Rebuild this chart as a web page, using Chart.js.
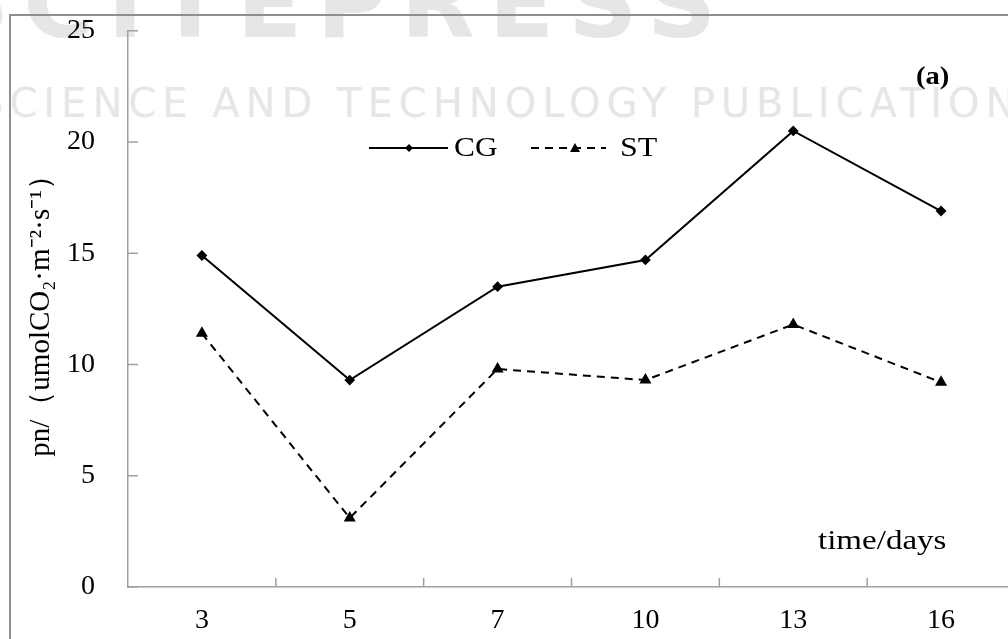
<!DOCTYPE html>
<html>
<head>
<meta charset="utf-8">
<script src="https://cdn.jsdelivr.net/npm/chart.js@4.4.1/dist/chart.umd.min.js"></script>
<style>
  html, body { margin: 0; padding: 0; background: #fff; overflow: hidden; }
  #wrap { position: relative; width: 1040px; height: 639px; overflow: hidden; }
  #frame { position: absolute; left: 9px; top: 14px; width: 2000px; height: 2000px;
           border-left: 2px solid #8f8f8f; border-top: 2px solid #8f8f8f; }
  .wm { position: absolute; color: #e6e6e6; font-family: "DejaVu Sans", sans-serif;
        font-weight: bold; white-space: nowrap; }
  #wm1 { left: -60px; top: -52px; font-size: 96px; letter-spacing: 14px; }
  #wm2 { left: -22px; top: 80px; font-size: 40px; letter-spacing: 6px; font-weight: normal; }
  canvas { position: absolute; left: 0; top: -11px; }
</style>
</head>
<body>
<div id="wrap">
  <div class="wm" id="wm1">SCITEPRESS</div>
  <div class="wm" id="wm2">SCIENCE AND TECHNOLOGY PUBLICATIONS</div>
  <div id="frame"></div>
  <canvas id="chart" width="1040" height="650"></canvas>
</div>
<script>
var days = ['3', '5', '7', '10', '13', '16'];
var cgValues = [14.9, 9.3, 13.5, 14.7, 20.5, 16.9];
var stValues = [11.4, 3.1, 9.8, 9.3, 11.8, 9.2];
var yTicks = [0, 5, 10, 15, 20, 25];

var serif = 'Liberation Serif';
var OFF = 11; // canvas sits 11px above the page top

function wideText(ctx, text, x, y, sx) {
    ctx.save();
    ctx.translate(x, y + OFF);
    ctx.scale(sx, 1);
    ctx.fillText(text, 0, 0);
    ctx.restore();
}

// little ticks pointing into the plot, legend and corner texts
var extras = {
    id: 'extras',
    afterDraw: function(chart) {
        var ctx = chart.ctx;
        var x = chart.scales.x, y = chart.scales.y;
        var area = chart.chartArea;
        ctx.save();
        ctx.strokeStyle = '#a0a0a0';
        ctx.lineWidth = 1.5;
        yTicks.forEach(function(v) {
            var py = y.getPixelForValue(v);
            ctx.beginPath();
            ctx.moveTo(area.left, py);
            ctx.lineTo(area.left + 10, py);
            ctx.stroke();
        });
        for (var i = 1; i <= days.length; i++) {
            var px = i < days.length
                ? (x.getPixelForValue(i - 1) + x.getPixelForValue(i)) / 2
                : area.right;
            ctx.beginPath();
            ctx.moveTo(px, area.bottom);
            ctx.lineTo(px, area.bottom - 9);
            ctx.stroke();
        }

        // legend
        ctx.fillStyle = '#000';
        ctx.strokeStyle = '#000';
        ctx.lineWidth = 2;
        var ly = 148 + OFF;
        ctx.beginPath();
        ctx.moveTo(369, ly); ctx.lineTo(448, ly);
        ctx.stroke();
        ctx.beginPath();
        ctx.moveTo(409, ly - 4); ctx.lineTo(413, ly); ctx.lineTo(409, ly + 4); ctx.lineTo(405, ly);
        ctx.closePath(); ctx.fill();
        ctx.setLineDash([8, 6]);
        ctx.beginPath();
        ctx.moveTo(531, ly); ctx.lineTo(606, ly);
        ctx.stroke();
        ctx.setLineDash([]);
        ctx.beginPath();
        ctx.moveTo(575, ly - 5); ctx.lineTo(580, ly + 4); ctx.lineTo(570, ly + 4);
        ctx.closePath(); ctx.fill();
        ctx.font = '28px "' + serif + '"';
        ctx.textBaseline = 'middle';
        ctx.textAlign = 'left';
        wideText(ctx, 'CG', 454, 149, 1.12);
        wideText(ctx, 'ST', 620, 149, 1.14);

        ctx.font = 'bold 26px "' + serif + '"';
        wideText(ctx, '(a)', 916, 77, 1.1);
        ctx.font = '28px "' + serif + '"';
        wideText(ctx, 'time/days', 818, 542, 1.18);
        ctx.restore();
    }
};

new Chart(document.getElementById('chart'), {
    type: 'line',
    data: {
        labels: days,
        datasets: [{
            label: 'CG',
            data: cgValues,
            borderColor: '#000',
            backgroundColor: '#000',
            borderWidth: 2,
            pointStyle: 'rectRot',
            pointRadius: 4,
            tension: 0
        }, {
            label: 'ST',
            data: stValues,
            borderColor: '#000',
            backgroundColor: '#000',
            borderWidth: 2,
            borderDash: [8, 6],
            pointStyle: 'triangle',
            pointRadius: 5,
            tension: 0
        }]
    },
    options: {
        responsive: false,
        animation: false,
        layout: { padding: { top: 8, right: 25, left: 0, bottom: 0 } },
        plugins: {
            legend: { display: false },
            tooltip: { enabled: false }
        },
        scales: {
            x: {
                offset: true,
                grid: { display: false },
                border: { color: '#a0a0a0', width: 1.5 },
                ticks: {
                    color: '#000',
                    padding: 9,
                    font: { family: serif, size: 28 }
                },
                afterFit: function(scale) { scale.height = 52; }
            },
            y: {
                min: 0,
                max: 25,
                grid: { display: false },
                border: { color: '#a0a0a0', width: 1.5 },
                ticks: {
                    stepSize: 5,
                    color: '#000',
                    padding: 25,
                    font: { family: serif, size: 28 }
                },
                title: {
                    display: true,
                    text: 'pn/（umolCO₂·m⁻²·s⁻¹）',
                    color: '#000',
                    font: { family: serif, size: 29 },
                    padding: { top: 24, bottom: 0 }
                },
                afterFit: function(scale) { scale.width = 128; }
            }
        }
    },
    plugins: [extras]
});
</script>
</body>
</html>
